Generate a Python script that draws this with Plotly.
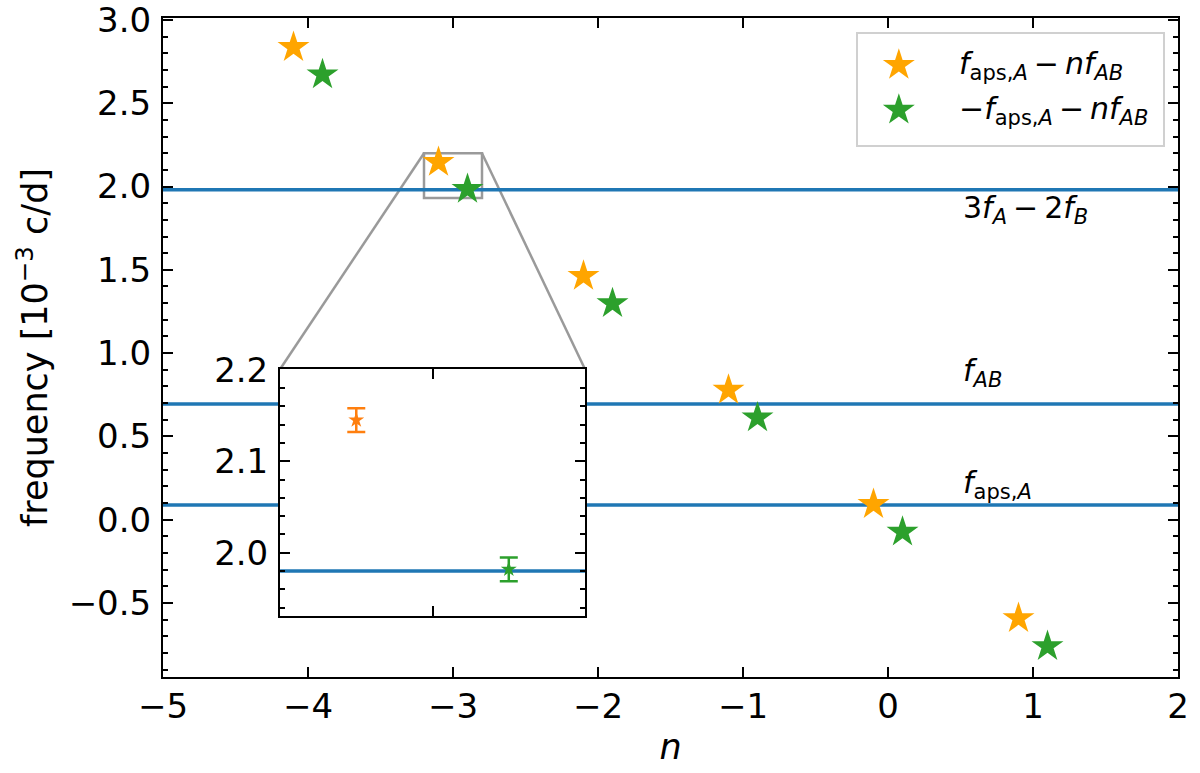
import plotly.graph_objects as go

# ---------------- data ----------------
n_orange = [-4.1, -3.1, -2.1, -1.1, -0.1, 0.9]
f_orange = [2.836, 2.146, 1.462, 0.778, 0.092, -0.593]
n_green = [-3.9, -2.9, -1.9, -0.9, 0.1, 1.1]
f_green = [2.672, 1.984, 1.298, 0.612, -0.074, -0.761]

line_values = [1.980, 0.694, 0.088]
TS = "\u2009"  # thin space around binary minus
line_labels = ["3<i>f</i><sub><i>A</i></sub>" + TS + "−" + TS + "2<i>f</i><sub><i>B</i></sub>",
               "<i>f</i><sub><i>AB</i></sub>",
               "<i>f</i><sub>aps,<i>A</i></sub>"]
label_y = [1.862, 0.885, 0.212]
label_x = 0.5

legend_names = ["<i>f</i><sub>aps,<i>A</i></sub>" + TS + "−" + TS + "<i>nf</i><sub><i>AB</i></sub>",
                "−<i>f</i><sub>aps,<i>A</i></sub>" + TS + "−" + TS + "<i>nf</i><sub><i>AB</i></sub>"]

inset_n = [-3.1, -2.9]
inset_f = [2.145, 1.982]
inset_err = [0.013, 0.013]

x_range = [-5, 2]
y_range = [-0.945, 3.012]
inset_x_range = [-3.2, -2.8]
inset_y_range = [1.931, 2.2005]
inset_xdom = [0.1153, 0.4158]
inset_ydom = [0.0926, 0.467]
legend_xdom = [0.6847, 0.9852]
legend_ydom = [0.8073, 0.9757]

FONT = "DejaVu Sans"
TICKFS = 34
TITLEFS = 35
TEXTFS = 30
BLUE = "#1f77b4"
GRAY = "#9a9a9a"
ORANGE = "#FFA500"
GREEN = "#2ca02c"

fig = go.Figure()

# horizontal reference lines (main)
for v in line_values:
    fig.add_trace(go.Scatter(x=x_range, y=[v, v], mode="lines",
                             line=dict(color=BLUE, width=3.5),
                             showlegend=False, hoverinfo="skip",
                             xaxis="x", yaxis="y"))

fig.add_trace(go.Scatter(x=n_orange, y=f_orange, mode="markers",
                         marker=dict(symbol="star", size=24, color=ORANGE, line=dict(width=0)),
                         name=legend_names[0], showlegend=False))
fig.add_trace(go.Scatter(x=n_green, y=f_green, mode="markers",
                         marker=dict(symbol="star", size=24, color=GREEN, line=dict(width=0)),
                         name=legend_names[1], showlegend=False))

# inset traces
fig.add_trace(go.Scatter(x=inset_x_range, y=[line_values[0]] * 2, mode="lines",
                         line=dict(color=BLUE, width=3.5), showlegend=False,
                         hoverinfo="skip", xaxis="x2", yaxis="y2"))
fig.add_trace(go.Scatter(x=[inset_n[0]], y=[inset_f[0]], mode="markers",
                         marker=dict(symbol="star", size=12, color="#ff7f0e"),
                         error_y=dict(type="data", array=[inset_err[0]], color="#ff7f0e",
                                      thickness=2.5, width=9),
                         showlegend=False, xaxis="x2", yaxis="y2"))
fig.add_trace(go.Scatter(x=[inset_n[1]], y=[inset_f[1]], mode="markers",
                         marker=dict(symbol="star", size=12, color=GREEN),
                         error_y=dict(type="data", array=[inset_err[1]], color=GREEN,
                                      thickness=2.5, width=9),
                         showlegend=False, xaxis="x2", yaxis="y2"))

# custom legend (own small axes so the star keys can match the plot markers)
legend_key_x = 0.134
legend_row_y = [0.72, 0.315]
legend_text_x = 0.325
for color, ry in zip([ORANGE, GREEN], legend_row_y):
    fig.add_trace(go.Scatter(x=[legend_key_x], y=[ry], mode="markers",
                             marker=dict(symbol="star", size=24, color=color, line=dict(width=0)),
                             showlegend=False, hoverinfo="skip", xaxis="x3", yaxis="y3"))
for name, ry in zip(legend_names, legend_row_y):
    fig.add_annotation(x=legend_text_x, y=ry, xref="x3", yref="y3", text=name,
                       showarrow=False, xanchor="left", yanchor="middle",
                       font=dict(family=FONT, size=TEXTFS, color="black"))

# white background for inset (covers main lines)
fig.add_shape(type="rect", xref="x2", yref="y2",
              x0=inset_x_range[0], x1=inset_x_range[1],
              y0=inset_y_range[0], y1=inset_y_range[1],
              fillcolor="white", line=dict(width=0), layer="below")

# zoom rectangle on main axes
fig.add_shape(type="rect", xref="x", yref="y",
              x0=inset_x_range[0], x1=inset_x_range[1],
              y0=inset_y_range[0], y1=min(inset_y_range[1], 2.2),
              line=dict(color=GRAY, width=2.5), layer="below")

# connector lines from zoom rect to inset top corners
def dom2x(d):
    return x_range[0] + d * (x_range[1] - x_range[0])

def dom2y(d):
    return y_range[0] + d * (y_range[1] - y_range[0])

top_y = dom2y(inset_ydom[1])
fig.add_shape(type="line", xref="x", yref="y",
              x0=inset_x_range[0], y0=2.2, x1=dom2x(inset_xdom[0]), y1=top_y,
              line=dict(color=GRAY, width=2.5), layer="below")
fig.add_shape(type="line", xref="x", yref="y",
              x0=inset_x_range[1], y0=2.2, x1=dom2x(inset_xdom[1]), y1=top_y,
              line=dict(color=GRAY, width=2.5), layer="below")

for txt, ly in zip(line_labels, label_y):
    fig.add_annotation(x=label_x, y=ly, xref="x", yref="y", text=txt,
                       showarrow=False, xanchor="left", yanchor="middle",
                       font=dict(family=FONT, size=TEXTFS, color="black"))

axis_common = dict(showline=True, linecolor="black", linewidth=2, mirror="ticks",
                   ticks="inside", tickcolor="black", tickwidth=2, ticklen=10,
                   showgrid=False, zeroline=False, automargin=False,
                   ticklabeloverflow="allow",
                   tickfont=dict(family=FONT, size=TICKFS, color="black"))

fig.update_layout(
    width=1200, height=773,
    margin=dict(l=163, r=22, t=18, b=96),
    paper_bgcolor="white", plot_bgcolor="white",
    font=dict(family=FONT, size=TICKFS, color="black"),
    xaxis=dict(range=x_range, dtick=1, tick0=0, domain=[0, 1],
               ticklabelstandoff=-2,
               title=dict(text="<i>n</i>", font=dict(family=FONT, size=TITLEFS), standoff=10),
               **axis_common),
    yaxis=dict(range=y_range, dtick=0.5, tick0=0, tickformat=".1f", domain=[0, 1],
               ticklabelstandoff=3,
               minor=dict(ticks="inside", dtick=0.1, tick0=0, ticklen=5, tickwidth=1.5,
                          tickcolor="black"),
               title=dict(text="frequency [10<sup>−3</sup> c/d]",
                          font=dict(family=FONT, size=TITLEFS), standoff=10),
               **axis_common),
    xaxis2=dict(range=inset_x_range, domain=inset_xdom, anchor="y2",
                tickvals=[-3.0], showticklabels=False, **axis_common),
    yaxis2=dict(range=inset_y_range, domain=inset_ydom, anchor="x2",
                tickvals=[2.0, 2.1, 2.2], tickformat=".1f", ticklabelstandoff=3,
                minor=dict(ticks="inside", dtick=0.02, tick0=2.0, ticklen=5, tickwidth=1.5,
                           tickcolor="black"),
                **axis_common),
    xaxis3=dict(range=[0, 1], domain=legend_xdom, anchor="y3", showline=True,
                linecolor="#d0d0d0", linewidth=1.5, mirror=True, showticklabels=False,
                ticks="", showgrid=False, zeroline=False, automargin=False, fixedrange=True),
    yaxis3=dict(range=[0, 1], domain=legend_ydom, anchor="x3", showline=True,
                linecolor="#d0d0d0", linewidth=1.5, mirror=True, showticklabels=False,
                ticks="", showgrid=False, zeroline=False, automargin=False, fixedrange=True),
    showlegend=False,
)

# remove the default 8px page margin so the 1200x773 figure fills the window exactly
fig.write_html("out.html", config={"displayModeBar": False},
               post_script="document.body.style.margin='0px';")
